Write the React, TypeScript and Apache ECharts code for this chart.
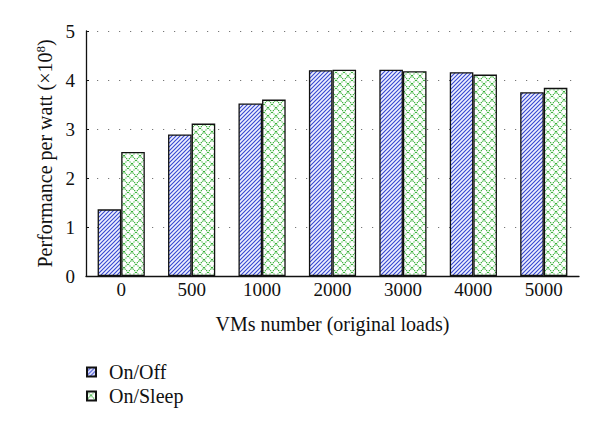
import React, { useEffect, useRef } from "react";
import * as echarts from "echarts";

const categories = ["0", "500", "1000", "2000", "3000", "4000", "5000"];
const onOff = [1.36, 2.89, 3.52, 4.2, 4.21, 4.16, 3.75];
const onSleep = [2.53, 3.11, 3.6, 4.21, 4.18, 4.11, 3.84];
const seriesNames = ["On/Off", "On/Sleep"];

const FONT = "Liberation Serif";

const hatchSvg =
  "<svg xmlns='http://www.w3.org/2000/svg' width='4' height='4'>" +
  "<rect width='4' height='4' fill='#eef0ff'/>" +
  "<path d='M-1,1 L1,-1 M0,4 L4,0 M3,5 L5,3' stroke='#3546d0' stroke-width='1.1'/></svg>";
const crossSvg =
  "<svg xmlns='http://www.w3.org/2000/svg' width='8' height='8'>" +
  "<rect width='8' height='8' fill='#ffffff'/>" +
  "<path d='M0,0 L8,8 M8,0 L0,8' stroke='#2fae2f' stroke-width='1.1' stroke-dasharray='1.3,0.9'/></svg>";

const toUrl = (s: string) => "data:image/svg+xml;charset=utf-8," + encodeURIComponent(s);

export default function App() {
  const ref = useRef<HTMLDivElement>(null);
  useEffect(() => {
    if (!ref.current) return;
    const chart = echarts.init(ref.current, null, { renderer: "svg" });
    const hatch: any = { image: toUrl(hatchSvg), repeat: "repeat", imageWidth: 4, imageHeight: 4 };
    const cross: any = { image: toUrl(crossSvg), repeat: "repeat", imageWidth: 8, imageHeight: 8 };
    chart.setOption({
      animation: false,
      backgroundColor: "#ffffff",
      textStyle: { fontFamily: FONT },
      grid: { left: 86, right: 21, top: 31, bottom: 156 },
      legend: {
        orient: "vertical",
        left: 86,
        top: 362,
        padding: 0,
        itemGap: 4,
        itemWidth: 9,
        itemHeight: 9,
        icon: "rect",
        textStyle: { fontFamily: FONT, fontSize: 20, color: "#111", padding: [0, 0, 0, 8] },
        data: seriesNames,
      },
      xAxis: {
        type: "category",
        data: categories,
        name: "VMs number (original loads)",
        nameLocation: "middle",
        nameGap: 38,
        nameTextStyle: { fontFamily: FONT, fontSize: 20, color: "#111" },
        axisLine: { lineStyle: { color: "#111", width: 1.3 } },
        axisTick: { inside: true, length: 4, lineStyle: { color: "#111" } },
        axisLabel: { fontFamily: FONT, fontSize: 19, color: "#111", margin: 4 },
      },
      yAxis: {
        type: "value",
        min: 0,
        max: 5,
        interval: 1,
        name: "{a|Performance per watt (×10}{b|8}{a|)}",
        nameLocation: "middle",
        nameGap: 26,
        nameTextStyle: {
          rich: {
            a: { fontFamily: FONT, fontSize: 20, color: "#111" },
            b: { fontFamily: FONT, fontSize: 13, color: "#111", verticalAlign: "top", padding: [0, 0, 8, 0] },
          },
        },
        axisLine: { show: true, lineStyle: { color: "#111", width: 1.3 } },
        axisTick: { show: true, inside: true, length: 3, lineStyle: { color: "#111" } },
        axisLabel: { fontFamily: FONT, fontSize: 19, color: "#111", margin: 11 },
        splitLine: { show: true, lineStyle: { color: "#777", width: 1.2, type: [1.2, 9.8] } },
      },
      series: [
        {
          name: seriesNames[0],
          type: "bar",
          data: onOff,
          barGap: "0%",
          barCategoryGap: "33%",
          itemStyle: { color: hatch, borderColor: "#111", borderWidth: 1.3 },
        },
        {
          name: seriesNames[1],
          type: "bar",
          data: onSleep,
          barGap: "0%",
          barCategoryGap: "33%",
          itemStyle: { color: cross, borderColor: "#111", borderWidth: 1.3 },
        },
      ],
    });
    return () => chart.dispose();
  }, []);
  return <div ref={ref} style={{ width: 600, height: 432, position: "fixed", left: 0, top: 0 }} />;
}
